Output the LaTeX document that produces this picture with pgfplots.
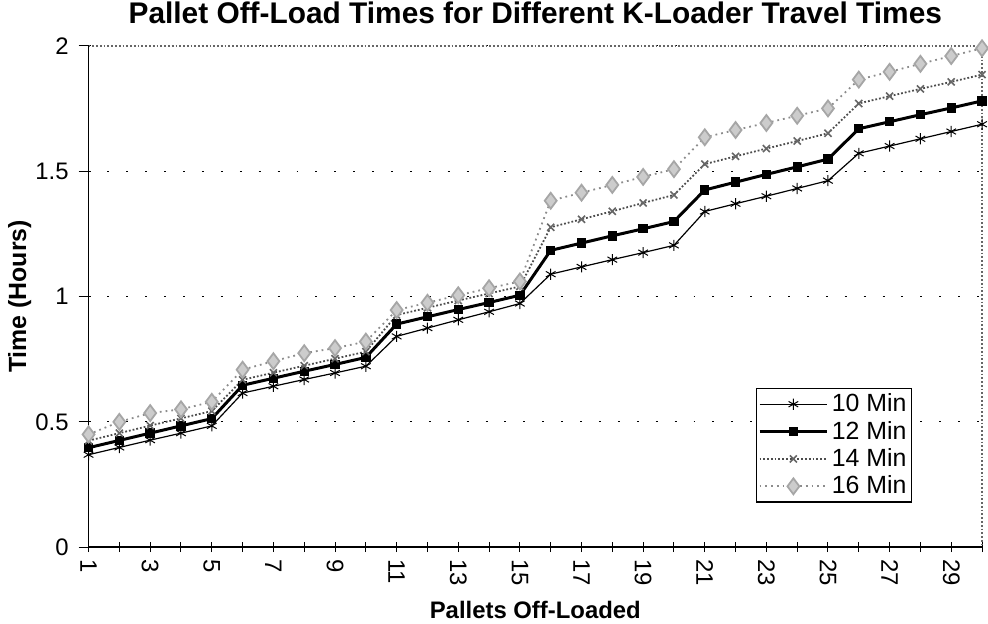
\documentclass[border=0pt]{standalone}
\usepackage{pgfplots}
\pgfplotsset{compat=1.18}
\usepackage{fontspec}
\setmainfont{Liberation Sans}
\begin{document}
\begin{tikzpicture}
\begin{axis}[
  width=449pt, height=252pt, scale only axis,
  xmin=1, xmax=30, ymin=0, ymax=2,
  axis x line*=bottom, axis y line*=left,
  axis line style={black, line width=0.9pt, -},
  xtick={1,3,...,29}, minor xtick={2,4,...,30},
  xtick align=center, ytick align=outside,
  major tick length=5pt, minor tick length=5pt,
  tick style={black, line width=0.5pt},
  ytick={0,0.5,1,1.5,2}, yticklabels={0,0.5,1,1.5,2},
  xticklabel style={rotate=-90, anchor=west, font=\fontsize{12}{14}\selectfont},
  yticklabel style={font=\fontsize{12}{14}\selectfont, xshift=-1.5pt},
  /pgf/number format/assume math mode=true,
  ymajorgrids,
  grid style={black, line width=0.6pt, dash pattern=on 1pt off 8.5pt},
  title={Pallet Off-Load Times for Different K-Loader Travel Times},
  title style={font=\bfseries\fontsize{15}{17}\selectfont, at={(axis description cs:0.5,1.020)}, anchor=base, inner sep=0pt, yshift=0pt},
  xlabel={Pallets Off-Loaded},
  xlabel style={font=\bfseries\fontsize{12}{14}\selectfont, at={(axis description cs:0.5,-0.142)}, anchor=base, inner sep=0pt},
  ylabel={Time (Hours)},
  ylabel style={font=\bfseries\fontsize{12.5}{14}\selectfont, at={(axis description cs:-0.07,0.5)}, anchor=base, inner sep=0pt},
  legend style={at={(0.922,0.089)}, anchor=south east, draw=black, line width=0.6pt,
    font=\fontsize{12.5}{13}\selectfont, inner sep=1pt, row sep=0pt, nodes={inner sep=1.6pt}},
  legend cell align=left,
  legend image code/.code={\draw[mark repeat=2,mark phase=2,#1] plot coordinates {(0pt,0pt) (17pt,0pt) (34pt,0pt)};},
  clip=false,
]
\addplot[black, line width=0.6pt, mark=asterisk, mark size=2.8pt, mark options={solid, line width=0.5pt}] coordinates {
(1,0.369)(2,0.398)(3,0.427)(4,0.455)(5,0.484)
(6,0.615)(7,0.642)(8,0.669)(9,0.695)(10,0.722)
(11,0.841)(12,0.874)(13,0.907)(14,0.939)(15,0.972)
(16,1.089)(17,1.118)(18,1.147)(19,1.175)(20,1.204)
(21,1.339)(22,1.370)(23,1.400)(24,1.431)(25,1.462)
(26,1.571)(27,1.600)(28,1.629)(29,1.658)(30,1.687)};
\addlegendentry{10 Min}
\addplot[black, line width=1.5pt, mark=square*, mark size=1.6pt, mark options={solid}] coordinates {
(1,0.397)(2,0.426)(3,0.455)(4,0.484)(5,0.513)
(6,0.646)(7,0.674)(8,0.702)(9,0.729)(10,0.757)
(11,0.890)(12,0.919)(13,0.948)(14,0.976)(15,1.005)
(16,1.184)(17,1.213)(18,1.242)(19,1.270)(20,1.299)
(21,1.425)(22,1.456)(23,1.487)(24,1.517)(25,1.548)
(26,1.669)(27,1.697)(28,1.725)(29,1.752)(30,1.780)};
\addlegendentry{12 Min}
\addplot[black!70, line width=0.9pt, densely dotted, mark=x, mark size=2.5pt, mark options={solid, line width=0.8pt, black!60}] coordinates {
(1,0.425)(2,0.455)(3,0.485)(4,0.514)(5,0.543)
(6,0.668)(7,0.696)(8,0.724)(9,0.752)(10,0.780)
(11,0.926)(12,0.955)(13,0.984)(14,1.012)(15,1.040)
(16,1.276)(17,1.308)(18,1.340)(19,1.373)(20,1.405)
(21,1.528)(22,1.559)(23,1.590)(24,1.620)(25,1.651)
(26,1.770)(27,1.799)(28,1.828)(29,1.856)(30,1.885)};
\addlegendentry{14 Min}
\addplot[black!45, line width=0.9pt, dotted, mark=diamond*, mark size=4pt, mark options={solid, draw=black!35, fill=black!20}] coordinates {
(1,0.450)(2,0.500)(3,0.535)(4,0.550)(5,0.580)
(6,0.708)(7,0.742)(8,0.774)(9,0.794)(10,0.820)
(11,0.946)(12,0.975)(13,1.005)(14,1.033)(15,1.060)
(16,1.382)(17,1.414)(18,1.445)(19,1.477)(20,1.508)
(21,1.635)(22,1.664)(23,1.692)(24,1.721)(25,1.750)
(26,1.865)(27,1.896)(28,1.928)(29,1.959)(30,1.990)};
\addlegendentry{16 Min}
\draw[black!60, line width=0.9pt, densely dotted] (rel axis cs:0,1) -- (rel axis cs:1,1) -- (rel axis cs:1,0);
\end{axis}
\useasboundingbox (current axis.south west) ++(-44.5pt,-38.5pt) rectangle ([xshift=0.5pt,yshift=23pt]current axis.north east);
\end{tikzpicture}
\end{document}
